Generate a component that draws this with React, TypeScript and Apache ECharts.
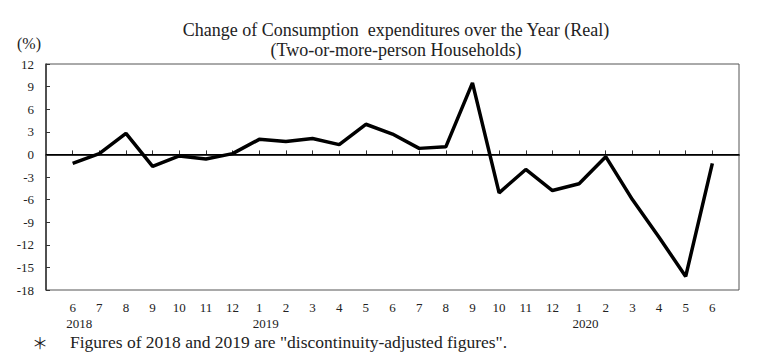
import React, { useEffect, useRef } from "react";
import * as echarts from "echarts";

const months: string[] = ["6","7","8","9","10","11","12","1","2","3","4","5","6","7","8","9","10","11","12","1","2","3","4","5","6"];
const yearLabels: Record<number, string> = { 0: "2018", 7: "2019", 19: "2020" };
const values: number[] = [-1.2, 0.1, 2.8, -1.6, -0.2, -0.6, 0.1, 2.0, 1.7, 2.1, 1.3, 4.0, 2.7, 0.8, 1.0, 9.5, -5.1, -2.0, -4.8, -3.9, -0.3, -6.0, -11.0, -16.2, -1.2];
const titleLine1 = "Change of Consumption  expenditures over the Year (Real)";
const titleLine2 = "(Two-or-more-person Households)";
const unitLabel = "(%)";
const footnoteMark = "＊";
const footnote = 'Figures of 2018 and 2019 are "discontinuity-adjusted figures".';

const SERIF = "'Liberation Serif', 'Times New Roman', serif";

export default function App() {
  const ref = useRef<HTMLDivElement>(null);
  useEffect(() => {
    if (!ref.current) return;
    const chart = echarts.init(ref.current, undefined, { renderer: "svg" });
    const cats = ["", ...months, ""];
    const data: (number | null)[] = [null, ...values, null];
    const n = cats.length;
    chart.setOption({
      animation: false,
      backgroundColor: "#ffffff",
      grid: {
        left: 46,
        right: 21,
        top: 64,
        bottom: 68,
        show: true,
        borderColor: "#555",
        borderWidth: 1,
        backgroundColor: "transparent",
      },
      xAxis: {
        type: "category",
        data: cats,
        boundaryGap: false,
        axisLine: { lineStyle: { color: "#333", width: 2 } },
        axisTick: {
          inside: true,
          length: 4,
          lineStyle: { color: "#333", width: 1 },
          interval: (i: number) => i > 0 && i < n - 1,
        },
        axisLabel: {
          interval: 0,
          margin: 9,
          fontFamily: SERIF,
          fontSize: 13,
          color: "#222",
          lineHeight: 16,
          rich: {
            yr: { fontFamily: SERIF, fontSize: 13, color: "#222", lineHeight: 16, padding: [0, 0, 0, 13] },
          },
          formatter: (v: string, i: number) => {
            const idx = i - 1;
            if (yearLabels[idx] !== undefined) return v + "\n{yr|" + yearLabels[idx] + "}";
            return v;
          },
        },
        splitLine: { show: false },
      },
      yAxis: {
        type: "value",
        min: -18,
        max: 12,
        interval: 3,
        axisLine: { show: true, lineStyle: { color: "#333", width: 1.5 } },
        axisTick: { show: true, inside: true, length: 4, lineStyle: { color: "#333" } },
        axisLabel: { margin: 12, fontFamily: SERIF, fontSize: 13, color: "#222" },
        splitLine: { show: false },
      },
      graphic: [
        {
          type: "text",
          x: 396,
          y: 21,
          style: { text: titleLine1, fontFamily: SERIF, fontSize: 18, fill: "#222", textAlign: "center" },
        },
        {
          type: "text",
          x: 396,
          y: 41,
          style: { text: titleLine2, fontFamily: SERIF, fontSize: 18, fill: "#222", textAlign: "center" },
        },
        {
          type: "text",
          x: 17,
          y: 35,
          style: { text: unitLabel, fontFamily: SERIF, fontSize: 16, fill: "#222" },
        },
        {
          type: "text",
          x: 32,
          y: 334,
          style: { text: footnoteMark, fontFamily: "'Noto Sans CJK JP', sans-serif", fontSize: 16, fill: "#222" },
        },
        {
          type: "text",
          x: 70,
          y: 333,
          style: { text: footnote, fontFamily: SERIF, fontSize: 17.5, fill: "#222" },
        },
      ],
      series: [
        {
          type: "line",
          data: data,
          showSymbol: false,
          symbol: "none",
          lineStyle: { color: "#000", width: 3.5 },
          connectNulls: false,
          markLine: {
            silent: true,
            symbol: "none",
            label: { show: false },
            lineStyle: { color: "#000", width: 1, type: "solid" },
            data: [{ yAxis: 0 }],
          },
        },
      ],
    });
    return () => chart.dispose();
  }, []);
  return <div ref={ref} style={{ width: 760, height: 358, position: "absolute", left: 0, top: 0 }} />;
}
